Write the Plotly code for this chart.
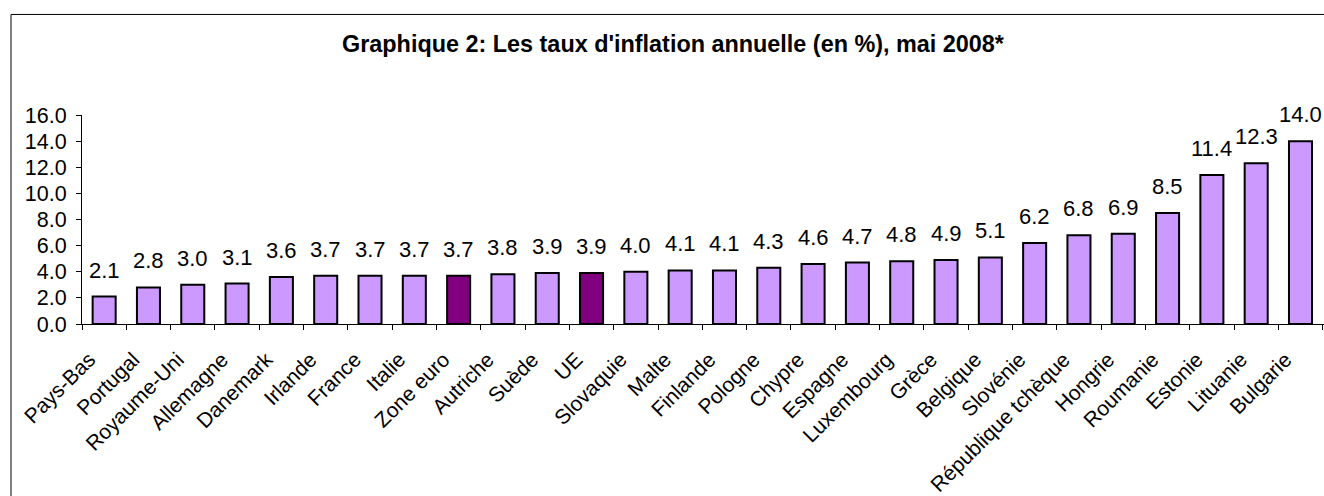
import plotly.graph_objects as go

categories = ["Pays-Bas", "Portugal", "Royaume-Uni", "Allemagne", "Danemark", "Irlande",
              "France", "Italie", "Zone euro", "Autriche", "Suède", "UE", "Slovaquie",
              "Malte", "Finlande", "Pologne", "Chypre", "Espagne", "Luxembourg", "Grèce",
              "Belgique", "Slovénie", "République tchèque", "Hongrie", "Roumanie",
              "Estonie", "Lituanie", "Bulgarie"]
values = [2.1, 2.8, 3.0, 3.1, 3.6, 3.7, 3.7, 3.7, 3.7, 3.8, 3.9, 3.9, 4.0, 4.1, 4.1,
          4.3, 4.6, 4.7, 4.8, 4.9, 5.1, 6.2, 6.8, 6.9, 8.5, 11.4, 12.3, 14.0]
highlight = ["Zone euro", "UE"]
y_ticks = [0, 2, 4, 6, 8, 10, 12, 14, 16]
title = "Graphique 2: Les taux d'inflation annuelle (en %), mai 2008*"

FONT = "Liberation Sans, Arial"
colors = ["#800080" if c in highlight else "#CC99FF" for c in categories]

W, H = 1324, 496
ml, mr, mt, mb = 82, 0, 115, 169
pw, ph = W - ml - mr, H - mt - mb

fig = go.Figure(go.Bar(
    x=categories, y=values,
    marker=dict(color=colors, line=dict(color="black", width=2)),
    width=0.52,
    cliponaxis=False,
))

for c, v in zip(categories, values):
    fig.add_annotation(x=c, y=v, text=f"{v:.1f}", showarrow=False,
                       xanchor="center", yanchor="bottom", yshift=12,
                       font=dict(family=FONT, size=22, color="black"))

def px_to_paper_x(px):
    return (px - ml) / pw

def px_to_paper_y(py):
    return (H - mb - py) / ph

fig.update_layout(
    width=W, height=H,
    margin=dict(l=ml, r=mr, t=mt, b=mb),
    paper_bgcolor="white", plot_bgcolor="white",
    showlegend=False,
    font=dict(family=FONT, color="black"),
    title=dict(text=f"<b>{title}</b>", x=673 / W, xanchor="center",
               y=1 - 44 / H, yanchor="middle",
               font=dict(size=23.4, family=FONT, color="black")),
    xaxis=dict(showline=True, linecolor="black", linewidth=1,
               ticks="outside", ticklen=5, tickcolor="black",
               tickson="boundaries", tickangle=-45,
               ticklabelshift=-15, ticklabelstandoff=14,
               tickfont=dict(size=21, family=FONT),
               showgrid=False),
    yaxis=dict(range=[0, 16], tickvals=y_ticks, tickformat=".1f",
               showline=True, linecolor="black", linewidth=1,
               ticks="outside", ticklen=5, tickcolor="black",
               ticklabelstandoff=5,
               tickfont=dict(size=21.5, family=FONT),
               showgrid=False, zeroline=False),
    shapes=[dict(type="rect", xref="paper", yref="paper",
                 x0=px_to_paper_x(11), x1=px_to_paper_x(1327),
                 y0=px_to_paper_y(520), y1=px_to_paper_y(13),
                 line=dict(color="black", width=1), fillcolor="rgba(0,0,0,0)",
                 layer="below")],
)

fig.write_html("out.html", config={"displayModeBar": False},
               post_script="document.body.style.margin='0';document.body.style.overflow='hidden';"
                           "document.documentElement.style.overflow='hidden';")
